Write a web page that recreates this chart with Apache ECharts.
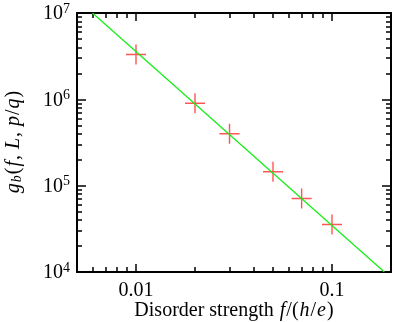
<!DOCTYPE html>
<html>
<head>
<meta charset="utf-8">
<script src="https://cdn.jsdelivr.net/npm/echarts@6/dist/echarts.min.js"></script>
<style>
html,body{margin:0;padding:0;background:#fff;}
#main{width:395px;height:322px;}
</style>
</head>
<body>
<div id="main"></div>
<script>
// 数据
var fVals = [0.01, 0.02, 0.03, 0.05, 0.07, 0.1];
var gVals = [3.3e6, 9.0e5, 4.0e5, 1.45e5, 7.1e4, 3.55e4];
// 拟合直线两端
var fitF = [0.006, 0.185];
var fitG = [1e7, 1e4];
var xRange = [0.005, 0.2];
var yRange = [1e4, 1e7];
var xMajor = [0.01, 0.1];
var xMinor = [0.006, 0.007, 0.008, 0.009, 0.02, 0.03, 0.04, 0.05, 0.06, 0.07, 0.08, 0.09];
var yMajor = [1e4, 1e5, 1e6, 1e7];
var yMinor = [];
for (var d = 4; d < 7; d++) {
	for (var k = 2; k <= 9; k++) yMinor.push(k * Math.pow(10, d));
}

var lg = function(v){ return Math.log10(v); };
var chart = echarts.init(document.getElementById('main'));
var FONT = 'Liberation Serif';

function mkX(pos, ticks, len, showLine, labels, name) {
	return {
		type: 'value', position: pos,
		min: lg(xRange[0]), max: lg(xRange[1]),
		splitLine: {show: false},
		axisLine: {show: showLine, onZero: false, lineStyle: {color: '#000', width: 2}},
		axisTick: {show: true, inside: true, length: len, customValues: ticks.map(lg), lineStyle: {color: '#000', width: 1.5}},
		axisLabel: labels ? {
			show: true, customValues: labels.map(lg), margin: 9,
			fontFamily: FONT, fontSize: 20, color: '#000',
			formatter: function(v){ return String(Number(Math.pow(10, v).toPrecision(2))); }
		} : {show: false},
		name: name || '', nameLocation: 'middle', nameGap: 29, nameMoveOverlap: false,
		nameTextStyle: {
			fontFamily: FONT, fontSize: 20, color: '#000',
			rich: {
				n: {fontFamily: FONT, fontSize: 20, color: '#000'},
				i: {fontFamily: FONT, fontSize: 20, fontStyle: 'italic', color: '#000', padding: [0, 1, 0, 1]}
			}
		}
	};
}
function mkY(pos, ticks, len, showLine, labels, name) {
	return {
		type: 'value', position: pos,
		min: lg(yRange[0]), max: lg(yRange[1]),
		splitLine: {show: false},
		axisLine: {show: showLine, onZero: false, lineStyle: {color: '#000', width: 2}},
		axisTick: {show: true, inside: true, length: len, customValues: ticks.map(lg), lineStyle: {color: '#000', width: 1.5}},
		axisLabel: labels ? {
			show: true, customValues: labels.map(lg), margin: 7,
			formatter: function(v){ return '{b|10}{s|' + Math.round(v) + '}'; },
			rich: {
				b: {fontFamily: FONT, fontSize: 20, color: '#000', verticalAlign: 'bottom', lineHeight: 22},
				s: {fontFamily: FONT, fontSize: 14, color: '#000', verticalAlign: 'top', lineHeight: 22, padding: [0, 0, 6, 0]}
			}
		} : {show: false},
		name: name || '', nameLocation: 'middle', nameGap: 53, nameRotate: 90, nameMoveOverlap: false,
		nameTextStyle: {
			rich: {
				n: {fontFamily: FONT, fontSize: 20, color: '#000', lineHeight: 24, verticalAlign: 'bottom'},
				i: {fontFamily: FONT, fontSize: 20, fontStyle: 'italic', color: '#000', lineHeight: 24, verticalAlign: 'bottom', padding: [0, 1, 0, 1]},
				sub: {fontFamily: FONT, fontSize: 14, fontStyle: 'italic', color: '#000', lineHeight: 22, verticalAlign: 'bottom', padding: [0, 1, 0, 0]}
			}
		}
	};
}

var option = {
	animation: false,
	grid: {left: 77, right: 4, top: 13, bottom: 50, containLabel: false, outerBoundsMode: 'none'},
	xAxis: [
		mkX('bottom', xMajor, 8, true, xMajor, '{n|Disorder strength }{i|f}{n|/(}{i|h}{n|/}{i|e}{n|)}'),
		mkX('bottom', xMinor, 5, false, null),
		mkX('top', xMajor, 8, true, null),
		mkX('top', xMinor, 5, false, null)
	],
	yAxis: [
		mkY('left', yMajor, 9, true, yMajor, '{i|g}{sub|b}{n|(}{i|f}{n|, }{i|L}{n|, }{i|p}{n|/}{i|q}{n|)}'),
		mkY('left', yMinor, 5, false, null),
		mkY('right', yMajor, 9, true, null),
		mkY('right', yMinor, 5, false, null)
	],
	series: [
		{
			type: 'line', xAxisIndex: 0, yAxisIndex: 0,
			data: fitF.map(function(f, i){ return [lg(f), lg(fitG[i])]; }),
			symbol: 'none',
			lineStyle: {color: '#11ee11', width: 1.2}
		},
		{
			type: 'scatter', xAxisIndex: 0, yAxisIndex: 0,
			data: fVals.map(function(f, i){ return [lg(f), lg(gVals[i])]; }),
			symbol: 'path://M-0.7,-10 h1.4 v9.3 h9.3 v1.4 h-9.3 v9.3 h-1.4 v-9.3 h-9.3 v-1.4 h9.3 z',
			symbolSize: 20,
			itemStyle: {color: '#ff2a2a'}
		}
	]
};
chart.setOption(option);
</script>
</body>
</html>
